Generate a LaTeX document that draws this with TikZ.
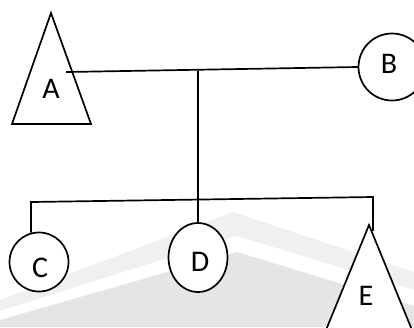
\documentclass[tikz,border=0pt]{standalone}
\usepackage{fontspec}
\setmainfont{Carlito}
\usetikzlibrary{shapes.geometric}
\tikzset{
  edge/.style={line width=1.7pt, line cap=rect},
  shapeline/.style={line width=1.7pt, line join=miter},
  lbl/.style={font=\fontsize{30pt}{30pt}\selectfont, inner sep=0pt},
  ring/.style={draw, line width=1.7pt, circle, inner sep=0pt},
  oval/.style={draw, line width=1.7pt, ellipse, inner sep=0pt}
}
\begin{document}
\begin{tikzpicture}[x=1pt,y=-1pt]
\useasboundingbox (0,0) rectangle (414,327);
\clip (0,0) rectangle (414,327);
% faint background logo bands
\fill[black!6] (0,300) -- (233,212) -- (414,272) -- (414,327) -- (0,327) -- cycle;
\fill[white] (0,311) -- (237,236) -- (414,290) -- (414,327) -- (0,327) -- cycle;
\fill[black!10] (0,320) -- (237,252) -- (414,306) -- (414,327) -- (0,327) -- cycle;
% triangle A
\coordinate (Atop) at (51,13);
\draw[shapeline, fill=white] (Atop) -- (91,124) -- (12,124) -- cycle;
\node[lbl] (A) at (51,89) {A};
% circle B
\node[ring, fill=white, minimum size=67pt] (B) at (392,67) {};
\node[lbl] (Bl) at (389,64) {B};
% circle C
\node[ring, fill=white, minimum size=59pt] (C) at (39,262) {};
\node[lbl] (Cl) at (40,268) {C};
% ellipse D
\node[oval, fill=white, minimum width=59pt, minimum height=69pt] (D) at (198,257.5) {};
\node[lbl] (Dl) at (200,262) {D};
% triangle E
\coordinate (Etop) at (369,225);
\draw[shapeline, fill=white] (Etop) -- (421,352) -- (317,352) -- cycle;
\node[lbl] (E) at (366,296) {E};
% connectors
\coordinate (Aend) at (67,72);
\coordinate (J1) at (198,71.5);
\coordinate (L) at (31,202);
\coordinate (R) at (373,197);
\coordinate (Rend) at (373,230);
\draw[edge] (Aend) -- (B.west);
\draw[edge] (J1) -- (D.north);
\draw[edge] (C.north -| L) -- (L) -- (R) -- (Rend);
\end{tikzpicture}
\end{document}
